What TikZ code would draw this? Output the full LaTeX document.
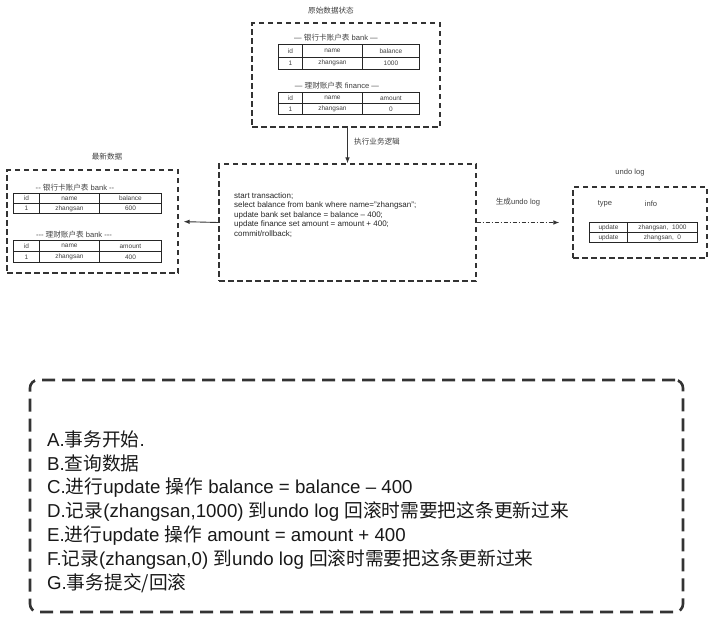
\documentclass[tikz,border=0pt]{standalone}
\usepackage{fontspec}
\setmainfont{Liberation Sans}
\newfontfamily\cjk{Noto Sans CJK SC}
\newcommand\zh[1]{{\cjk #1}}
\usetikzlibrary{arrows.meta}
\tikzset{
  dbox/.style={draw=black!80, line width=1.2pt, dash pattern=on 5.5pt off 3.5pt, inner sep=0pt},
  bigbox/.style={draw=black!80, line width=2.6pt, dash pattern=on 13pt off 7pt, rounded corners=8pt, inner sep=0pt},
  cellst/.style={draw=black!85, line width=0.9pt, inner sep=0pt, font=\fontsize{6.5}{7}\selectfont, text=black!75},
  lbl/.style={font=\fontsize{7.6}{8}\selectfont, text=black!75, inner sep=0pt},
  codetxt/.style={font=\fontsize{8}{9.4}\selectfont, text=black!85, inner sep=0pt, align=left},
  bigtxt/.style={font=\fontsize{18.7}{23.8}\selectfont, text=black!90, inner sep=0pt, align=left},
  arr/.style={-{Latex[length=6pt,width=4.5pt]}, line width=0.9pt, draw=black!80},
}
\newcommand\mycell[6]{\node[cellst, minimum width={(#4-#2)*1pt}, minimum height={(#5-#3)*1pt}, anchor=north west] (#1) at (#2,#3) {#6};}
\begin{document}
\begin{tikzpicture}[x=1pt,y=-1pt]
\useasboundingbox (0,0) rectangle (714,622);
% boxes
\node[dbox, minimum width=188pt, minimum height=104pt] (orig) at (346,75) {};
\node[dbox, minimum width=257pt, minimum height=117pt] (mid) at (347.5,222.5) {};
\node[dbox, minimum width=171pt, minimum height=103pt] (newd) at (92.5,221.5) {};
\node[dbox, minimum width=134pt, minimum height=71pt] (undo) at (640,222.5) {};
\node[bigbox, minimum width=653pt, minimum height=232pt] (steps) at (356.5,496) {};
% titles
\node[lbl] (t1) at (331,11) {\zh{原始数据状态}};
\node[lbl] (t2) at (107,157) {\zh{最新数据}};
\node[lbl] (t3) at (630,173) {undo log};
% original tables
\node[lbl] (c1) at (336,38) {— \zh{银行卡账户表} bank —};
\mycell{a11}{278}{44}{302}{56.5}{id}
\mycell{a12}{302}{44}{362}{56.5}{name}
\mycell{a13}{362}{44}{419}{56.5}{balance}
\mycell{a21}{278}{56.5}{302}{69}{1}
\mycell{a22}{302}{56.5}{362}{69}{zhangsan}
\mycell{a23}{362}{56.5}{419}{69}{1000}
\node[lbl] (c2) at (337,86) {— \zh{理财账户表} finance —};
\mycell{b11}{278}{92}{302}{103}{id}
\mycell{b12}{302}{92}{362}{103}{name}
\mycell{b13}{362}{92}{419}{103}{amount}
\mycell{b21}{278}{103}{302}{114}{1}
\mycell{b22}{302}{103}{362}{114}{zhangsan}
\mycell{b23}{362}{103}{419}{114}{0}
% new data tables
\node[lbl] (c3) at (75,188) {-{}- \zh{银行卡账户表} bank -{}-};
\mycell{d11}{13}{193}{39}{203}{id}
\mycell{d12}{39}{193}{99}{203}{name}
\mycell{d13}{99}{193}{161}{203}{balance}
\mycell{d21}{13}{203}{39}{213}{1}
\mycell{d22}{39}{203}{99}{213}{zhangsan}
\mycell{d23}{99}{203}{161}{213}{600}
\node[lbl] (c4) at (74,235) {-{}-{}- \zh{理财账户表} bank -{}-{}-};
\mycell{e11}{13}{240}{39}{251}{id}
\mycell{e12}{39}{240}{99}{251}{name}
\mycell{e13}{99}{240}{161}{251}{amount}
\mycell{e21}{13}{251}{39}{262}{1}
\mycell{e22}{39}{251}{99}{262}{zhangsan}
\mycell{e23}{99}{251}{161}{262}{400}
% undo log
\node[lbl] (ty) at (605,204) {type};
\node[lbl] (inf) at (651,204) {info};
\mycell{u11}{589}{222}{627}{232}{update}
\mycell{u12}{627}{222}{697}{232}{zhangsan,\ \ 1000}
\mycell{u21}{589}{232}{627}{242}{update}
\mycell{u22}{627}{232}{697}{242}{zhangsan,\ \ 0}
% code
\node[codetxt, anchor=west] (code) at (234,215) {start transaction;\\select balance from bank where name="zhangsan";\\update bank set balance = balance – 400;\\update finance set amount = amount + 400;\\commit/rollback;};
% connectors
\draw[arr] (mid.north |- orig.south) -- (mid.north);
\node[lbl, anchor=west] (l1) at (354,142) {\zh{执行业务逻辑}};
\draw[arr, shorten >=5pt] (mid.west) -- (newd.east);
\draw[arr, dash pattern=on 4pt off 2pt on 1pt off 2pt, shorten >=13pt] (mid.east) -- (undo.west);
\node[lbl] (l2) at (518,202) {\zh{生成}undo log};
% steps
\node[bigtxt, anchor=west] (stxt) at (47,511.5) {A.\zh{事务开始}.\\B.\zh{查询数据}\\C.\zh{进行}update \zh{操作} balance = balance – 400\\D.\zh{记录}(zhangsan,1000) \zh{到}undo log \zh{回滚时需要把这条更新过来}\\E.\zh{进行}update \zh{操作} amount = amount + 400\\F.\zh{记录}(zhangsan,0) \zh{到}undo log \zh{回滚时需要把这条更新过来}\\G.\zh{事务提交/回滚}};
\end{tikzpicture}
\end{document}
